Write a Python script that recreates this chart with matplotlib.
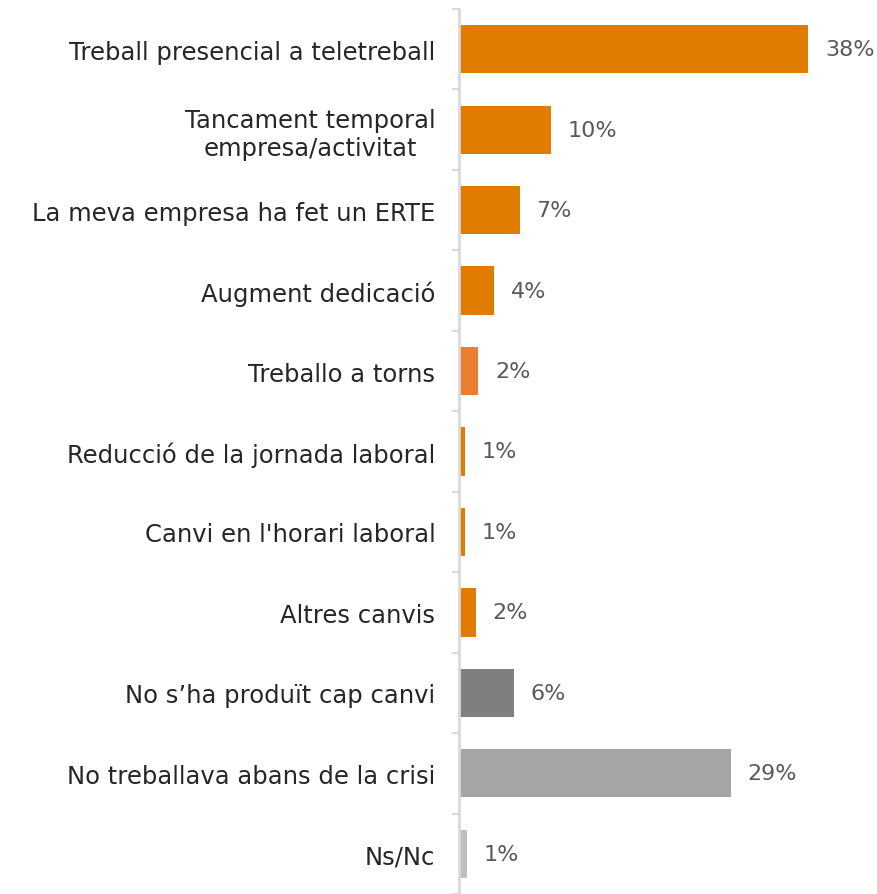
import matplotlib.pyplot as plt
import matplotlib.ticker as mticker
import numpy as np

plt.rcParams['font.family'] = ['DejaVu Sans']

categories = ["Treball presencial a teletreball",
              "Tancament temporal\nempresa/activitat",
              "La meva empresa ha fet un ERTE",
              "Augment dedicació",
              "Treballo a torns",
              "Reducció de la jornada laboral",
              "Canvi en l'horari laboral",
              "Altres canvis",
              "No s\u2019ha produït cap canvi",
              "No treballava abans de la crisi",
              "Ns/Nc"]
values = [38.0, 10.0, 6.6, 3.8, 2.1, 0.6, 0.6, 1.8, 6.0, 29.6, 0.9]
labels = ["38%", "10%", "7%", "4%", "2%", "1%", "1%", "2%", "6%", "29%", "1%"]
colors = ["#E07C00", "#E07C00", "#E07C00", "#E07C00", "#ED7D31", "#E07C00",
          "#E07C00", "#E07C00", "#7F7F7F", "#A5A5A5", "#BFBFBF"]

fig = plt.figure(figsize=(8.78, 8.95), dpi=100)
ax = fig.add_axes([459 / 878, 0.0, 1 - 459 / 878, 1 - 10 / 895])

y = np.arange(len(categories))
ax.barh(y, values, height=0.6, color=colors)
ax.set_ylim(len(categories) - 0.5, -0.5)
ax.set_xlim(0, 45.6)

for yi, v, lab in zip(y, values, labels):
    ax.annotate(lab, (v, yi), xytext=(12, 0), textcoords='offset points',
                va='center', ha='left', fontsize=16, color='#595959')

ax.set_yticks(y)
ax.set_yticklabels(categories, fontsize=17.5, color='#262626')
for t in ax.get_yticklabels():
    t.set_multialignment('center')
ax.tick_params(axis='y', which='major', length=0, pad=17)
ax.yaxis.set_minor_locator(mticker.FixedLocator(np.arange(-0.5, len(categories), 1)))
ax.tick_params(axis='y', which='minor', length=5, width=1.5, color='#D9D9D9')
ax.set_xticks([])

for s in ['top', 'right', 'bottom']:
    ax.spines[s].set_visible(False)
ax.spines['left'].set_color('#D9D9D9')
ax.spines['left'].set_linewidth(2)

fig.savefig('out.png', dpi=100)
